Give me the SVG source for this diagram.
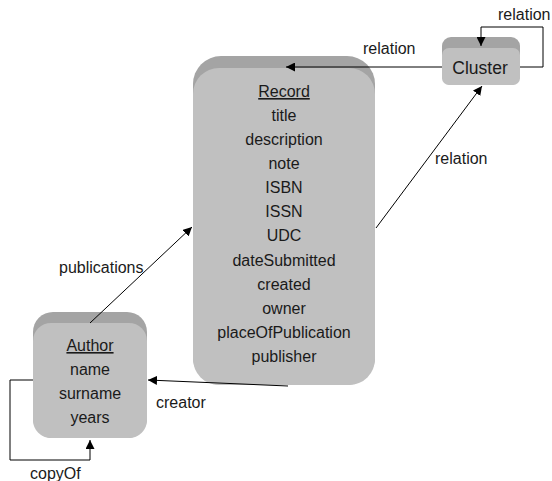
<svg xmlns="http://www.w3.org/2000/svg" width="552" height="481" viewBox="0 0 552 481">
<defs>
<style>
text{font-family:"Liberation Sans",Arial,sans-serif;font-size:16px;fill:#1a1a1a;}
.c{text-anchor:middle;}
.u{text-decoration:underline;}
.big{font-size:17.5px;}
.top{fill:#a4a4a4;}
.face{fill:#c0c0c0;}
.ln{stroke:#000;stroke-width:1;fill:none;}
</style>
<marker id="ah" viewBox="0 0 10 10" refX="10" refY="5" markerWidth="9" markerHeight="9" markerUnits="userSpaceOnUse" orient="auto">
<path d="M0,0 L10,5 L0,10 z" fill="#000"/>
</marker>
</defs>
<rect width="552" height="481" fill="#fff"/>
<g id="record">
<rect class="top" x="193" y="56" width="182" height="329" rx="28" ry="28"/>
<rect class="face" x="193" y="68" width="182" height="317" rx="26" ry="26"/>
<text class="c u" x="284" y="97">Record</text>
<text class="c" x="284" y="121">title</text>
<text class="c" x="284" y="145">description</text>
<text class="c" x="284" y="169">note</text>
<text class="c" x="284" y="193">ISBN</text>
<text class="c" x="284" y="217">ISSN</text>
<text class="c" x="284" y="241">UDC</text>
<text class="c" x="284" y="266">dateSubmitted</text>
<text class="c" x="284" y="290">created</text>
<text class="c" x="284" y="314">owner</text>
<text class="c" x="284" y="338">placeOfPublication</text>
<text class="c" x="284" y="362">publisher</text>
</g>
<g id="cluster">
<rect class="top" x="442" y="37" width="78" height="48" rx="9" ry="9"/>
<rect class="face" x="442" y="48" width="78" height="37" rx="7" ry="7"/>
<text class="c big" x="480" y="74">Cluster</text>
</g>
<g id="author">
<rect class="top" x="33" y="312" width="114" height="126" rx="20" ry="20"/>
<rect class="face" x="33" y="323" width="114" height="115" rx="18" ry="18"/>
<text class="c u" x="90" y="351">Author</text>
<text class="c" x="90" y="375">name</text>
<text class="c" x="90" y="399">surname</text>
<text class="c" x="90" y="423">years</text>
</g>
<g id="connectors">
<line class="ln" x1="442" y1="67" x2="286" y2="67" marker-end="url(#ah)"/>
<polyline class="ln" points="520,67 543,67 543,27 481,27 481,46" marker-end="url(#ah)"/>
<line class="ln" x1="376" y1="228" x2="482" y2="86" marker-end="url(#ah)"/>
<line class="ln" x1="90" y1="323" x2="192" y2="227" marker-end="url(#ah)"/>
<line class="ln" x1="288" y1="386" x2="148" y2="380" marker-end="url(#ah)"/>
<polyline class="ln" points="33,380 10,380 10,460 90,460 90,440" marker-end="url(#ah)"/>
<text x="363" y="54">relation</text>
<text x="498" y="20">relation</text>
<text x="435" y="164">relation</text>
<text x="59" y="273">publications</text>
<text x="156" y="408">creator</text>
<text x="30" y="479">copyOf</text>
</g>
</svg>
